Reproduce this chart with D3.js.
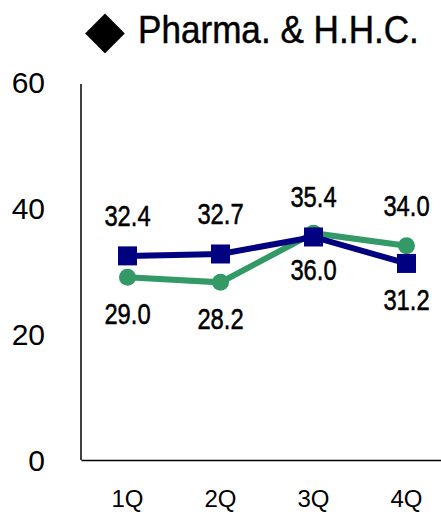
<!DOCTYPE html>
<html>
<head>
<meta charset="utf-8">
<script src="https://cdn.jsdelivr.net/npm/d3@7"></script>
<style>
  html, body { margin: 0; padding: 0; background: #fff; }
  svg { display: block; }
  text { font-family: "Liberation Sans", Arial, sans-serif; fill: #000; }
  .heavy { stroke: #000; stroke-width: 0.5px; }
</style>
</head>
<body>
<svg id="chart"></svg>
<script>
// datos
const quarters = ['1Q', '2Q', '3Q', '4Q'];
const greenVals = [29.0, 28.2, 36.0, 34.0];
const navyVals = [32.4, 32.7, 35.4, 31.2];
const greenLabelSide = ['below', 'below', 'below', 'above'];
const navyLabelSide = ['above', 'above', 'above', 'below'];
const yTicks = [0, 20, 40, 60];

const W = 441, H = 518;
const svg = d3.select('#chart').attr('width', W).attr('height', H);

const x = d3.scaleBand().domain(quarters).range([81, 453]);
const y = d3.scaleLinear().domain([0, 60]).range([460, 82]);

// texto estrecho (tipo Arial Narrow)
function squeeze(sel, k) {
  sel.each(function() {
    const t = d3.select(this);
    const tx = +t.attr('x') || 0, ty = +t.attr('y') || 0;
    t.attr('x', 0).attr('y', 0)
      .attr('transform', `translate(${tx},${ty}) scale(${k},1)`);
  });
}

// titulo
svg.append('text')
  .attr('x', 105).attr('y', 47)
  .attr('text-anchor', 'middle')
  .style('font-family', '"DejaVu Sans", sans-serif')
  .style('font-size', '52px')
  .text('\u25C6');
svg.append('text')
  .attr('class', 'heavy')
  .attr('x', 138).attr('y', 43)
  .style('font-size', '39px')
  .text('Pharma. & H.H.C.')
  .call(squeeze, 0.9);

// eje Y
const gy = svg.append('g').attr('transform', 'translate(81,0)')
  .call(d3.axisLeft(y).tickValues(yTicks).tickSize(0));
gy.select('.domain').attr('stroke', '#000').attr('stroke-width', 1.5)
  .attr('d', `M0,${y(60) + 2}V${y(0)}`);
gy.selectAll('text')
  .attr('x', -36).attr('dy', '0.36em')
  .attr('text-anchor', 'end')
  .style('font-size', '30px').style('font-family', null);

// eje X
const gx = svg.append('g').attr('transform', `translate(0,${y(0)})`)
  .call(d3.axisBottom(x).tickSize(0));
gx.select('.domain').attr('stroke', '#000').attr('stroke-width', 1.5);
gx.selectAll('text')
  .attr('y', 38).attr('dy', '0.36em')
  .style('font-size', '24px').style('font-family', null);

const cx = q => x(q) + x.bandwidth() / 2;
const line = d3.line().x((d, i) => cx(quarters[i])).y(d => y(d));

// serie verde
svg.append('path').datum(greenVals)
  .attr('fill', 'none').attr('stroke', '#339966').attr('stroke-width', 6)
  .attr('d', line);
svg.selectAll('.dot-g').data(greenVals).enter().append('circle')
  .attr('class', 'dot-g')
  .attr('cx', (d, i) => cx(quarters[i])).attr('cy', d => y(d))
  .attr('r', 8.5).attr('fill', '#339966');

// serie azul
svg.append('path').datum(navyVals)
  .attr('fill', 'none').attr('stroke', '#000080').attr('stroke-width', 6)
  .attr('d', line);
svg.selectAll('.dot-n').data(navyVals).enter().append('rect')
  .attr('class', 'dot-n')
  .attr('x', (d, i) => cx(quarters[i]) - 9.5).attr('y', d => y(d) - 9.5)
  .attr('width', 19).attr('height', 19).attr('fill', '#000080');

// etiquetas
function labels(vals, sides) {
  svg.append('g').selectAll('text').data(vals).enter().append('text')
    .attr('class', 'heavy')
    .attr('x', (d, i) => cx(quarters[i]))
    .attr('y', (d, i) => y(d) + (sides[i] === 'above' ? -40 : 36))
    .attr('dy', '0.36em')
    .attr('text-anchor', 'middle')
    .style('font-size', '29px')
    .text(d => d.toFixed(1))
    .call(squeeze, 0.82);
}
labels(greenVals, greenLabelSide);
labels(navyVals, navyLabelSide);
</script>
</body>
</html>
